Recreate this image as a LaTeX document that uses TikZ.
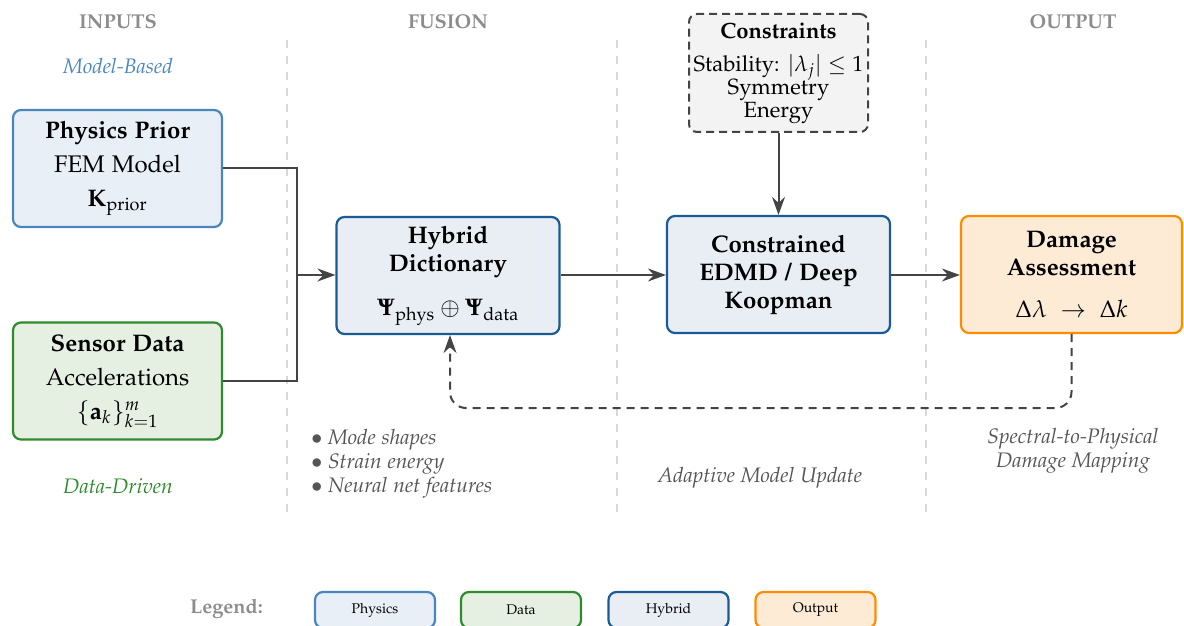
\documentclass[tikz,border=0pt]{standalone}
\usepackage[T1]{fontenc}
\usepackage{amsmath,amssymb}
\usepackage[sc]{mathpazo}
\usetikzlibrary{arrows.meta,positioning,calc}
\definecolor{physB}{HTML}{4A86BE}
\definecolor{physF}{HTML}{E8EFF7}
\definecolor{dataB}{HTML}{2E8B2E}
\definecolor{dataF}{HTML}{E5F0E3}
\definecolor{hybB}{HTML}{1A5A96}
\definecolor{hybF}{HTML}{E9EEF5}
\definecolor{outB}{HTML}{FF8C00}
\definecolor{outF}{HTML}{FDEBD5}
\definecolor{conF}{HTML}{F3F3F3}
\definecolor{conn}{HTML}{444444}
\definecolor{hdr}{HTML}{8C8C8C}
\definecolor{note}{HTML}{555555}
\definecolor{sep}{HTML}{D8D8D8}
\newcommand{\blt}{\makebox[8.5pt][l]{$\bullet$}}
\tikzset{
  box/.style={draw, rounded corners=4pt, line width=1.1pt, align=center, inner sep=2pt},
  physbox/.style={box, draw=physB, fill=physF, minimum width=104.5pt, minimum height=58.5pt},
  databox/.style={box, draw=dataB, fill=dataF, minimum width=104.5pt, minimum height=58.5pt},
  hybbox/.style={box, draw=hybB, fill=hybF, minimum width=111.5pt, minimum height=58.5pt},
  outbox/.style={box, draw=outB, fill=outF, minimum width=110.5pt, minimum height=58.5pt},
  conbox/.style={box, draw=conn, fill=conF, line width=1pt, dashed, dash pattern=on 4pt off 2.5pt, minimum width=89.5pt, minimum height=59pt},
  legbox/.style={box, minimum width=60pt, minimum height=18pt, font=\scriptsize},
  header/.style={font=\bfseries, text=hdr},
  notetext/.style={font=\fontsize{10.5}{12}\selectfont\itshape, text=note, align=center},
  line/.style={draw=conn, line width=1pt},
  arrow/.style={line, -{Stealth[length=9pt,width=6.5pt,inset=3pt]}},
  fbarrow/.style={arrow, dashed, dash pattern=on 4pt off 3pt, rounded corners=8pt},
  sepline/.style={draw=sep, line width=0.6pt, dash pattern=on 4pt off 4pt},
}
\begin{document}
\begin{tikzpicture}[x=0.5pt,y=-0.5pt]
\clip (0,0) rectangle (1184,626);
% separators
\draw[sepline] (287,40) -- (287,515);
\draw[sepline] (617,40) -- (617,515);
\draw[sepline] (926,40) -- (926,515);
% headers
\node[header] (hin) at (118,22) {INPUTS};
\node[header] (hfu) at (448,22) {FUSION};
\node[header] (hou) at (1073,22) {OUTPUT};
\node[font=\fontsize{10.5}{12}\selectfont\itshape, text=physB] (mb) at (118,66) {Model-Based};
\node[font=\fontsize{10.5}{12}\selectfont\itshape, text=dataB] (dd) at (118,486) {Data-Driven};
% boxes
\node[physbox, font=\fontsize{12}{14}\selectfont] (phys) at (117.5,168.5) {\textbf{Physics Prior}\\[3pt] FEM Model\\[3pt] $\mathbf{K}_{\text{prior}}$};
\node[databox, font=\fontsize{12}{14}\selectfont] (sens) at (117.5,381) {\textbf{Sensor Data}\\[3pt] Accelerations\\[3pt] $\{\mathbf{a}_k\}_{k=1}^{m}$};
\node[hybbox, font=\fontsize{12}{14}\selectfont] (hyb) at (448,275.5) {\textbf{Hybrid}\\ \textbf{Dictionary}\\[8pt] $\boldsymbol{\Psi}_{\text{phys}} \oplus \boldsymbol{\Psi}_{\text{data}}$};
\node[hybbox, font=\fontsize{12}{14}\selectfont] (edmd) at (778.5,274.5) {\textbf{Constrained}\\ \textbf{EDMD / Deep}\\ \textbf{Koopman}};
\node[outbox, font=\fontsize{12}{14}\selectfont] (dmg) at (1071.5,274.5) {\textbf{Damage}\\ \textbf{Assessment}\\[7pt] $\Delta\lambda \;\rightarrow\; \Delta k$};
\node[conbox, font=\fontsize{11}{12.5}\selectfont] (cons) at (778.5,73) {\textbf{Constraints}\\[4pt] Stability: $|\lambda_j| \le 1$\\[-1pt] Symmetry\\[-1pt] Energy};
% connectors
\coordinate (j) at (297,275);
\draw[line] (phys.east) -| (j);
\draw[line] (sens.east) -| (j);
\draw[arrow] (j) -- (hyb.west |- j);
\draw[arrow] (hyb.east |- j) -- (edmd.west |- j);
\draw[arrow] (edmd.east |- j) -- (dmg.west |- j);
\draw[arrow] (cons.south) -- (edmd.north);
\coordinate (fbc) at (450,408);
\draw[fbarrow] (dmg.south) |- (fbc) -- (fbc |- hyb.south);
% notes
\node[notetext, align=left, anchor=west] (bul) at (304,464) {\blt Mode shapes\\ \blt Strain energy\\ \blt Neural net features};
\node[notetext] (amu) at (760,478) {Adaptive Model Update};
\node[notetext] (spm) at (1073,451) {Spectral-to-Physical\\ Damage Mapping};
% legend
\node[header, anchor=west] (leg) at (183,609) {Legend:};
\node[legbox, draw=physB, fill=physF] (l1) at (375,610) {Physics};
\node[legbox, draw=dataB, fill=dataF] (l2) at (521,610) {Data};
\node[legbox, draw=hybB, fill=hybF] (l3) at (668.5,610) {Hybrid};
\node[legbox, draw=outB, fill=outF] (l4) at (815.5,610) {Output};
\end{tikzpicture}
\end{document}
